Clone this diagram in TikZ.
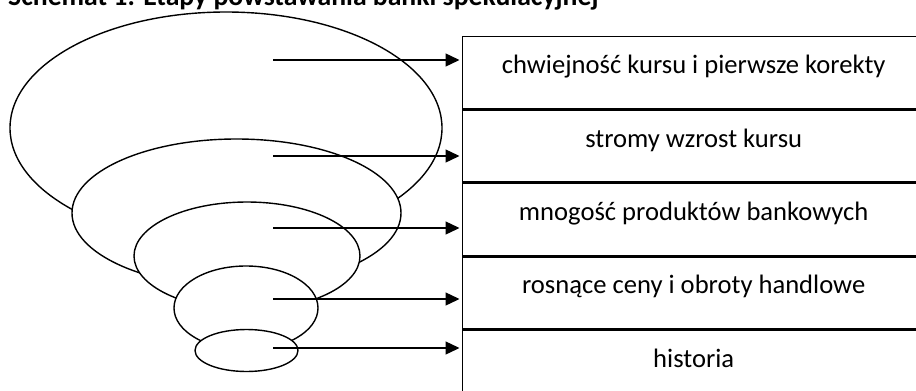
\documentclass[tikz,border=0pt]{standalone}
\usepackage{fontspec}
\setmainfont{Carlito}
\usetikzlibrary{shapes.geometric,positioning,arrows.meta}

\tikzset{
  warstwa/.style={ellipse, draw, fill=white, line width=1.4pt, inner sep=0pt},
  etap/.style={rectangle, draw, line width=1.4pt, minimum width=462pt, minimum height=72pt,
    inner sep=0pt, text height=37pt, text depth=35pt, font=\fontsize{26.6}{30}\selectfont},
  strzalka/.style={line width=1.4pt, -{Triangle[length=14pt,width=13pt]}, shorten >=2.5pt}
}

\begin{document}
\begin{tikzpicture}[x=1pt, y=-1pt]
  \clip (0,0) rectangle (916,391);
  \useasboundingbox (0,0) rectangle (916,391);

  \node[anchor=base west, inner sep=0pt, font=\bfseries\fontsize{27.7}{30}\selectfont] (tytul) at (8,5)
    {Schemat 1. Etapy powstawania bańki spekulacyjnej};

  % warstwy od najszerszej do najwezszej
  \foreach \i/\cx/\cy/\rx/\ry in {1/226/128/216/116, 2/236.5/213/164.5/74, 3/247/256/113/54,
                                  4/246/308/72/42, 5/246.5/350.5/51.5/21} {
    \node[warstwa, minimum width=2*\rx pt, minimum height=2*\ry pt] (e\i) at (\cx,\cy) {};
  }

  % etapy
  \node[etap, anchor=north west] (b1) at (462,36) {chwiejność kursu i pierwsze korekty};
  \node[etap, below=0pt of b1] (b2) {stromy wzrost kursu};
  \node[etap, below=0pt of b2] (b3) {mnogość produktów bankowych};
  \node[etap, below=0pt of b3] (b4) {rosnące ceny i obroty handlowe};
  \node[etap, below=0pt of b4] (b5) {historia};

  \foreach \i/\y in {1/60, 2/156, 3/228, 4/299, 5/348} {
    \coordinate (a\i) at (273,\y);
    \draw[strzalka] (a\i) -- (a\i -| b\i.west);
  }
\end{tikzpicture}
\end{document}
